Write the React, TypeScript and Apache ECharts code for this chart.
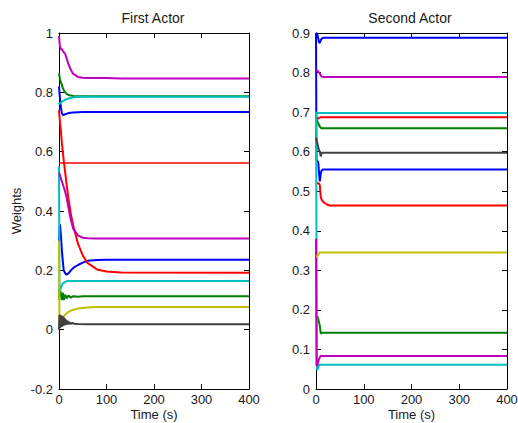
import React, { useEffect, useRef } from "react";
import * as echarts from "echarts";

// ---------- First Actor (left panel) ----------
const tL = [0, 1, 2, 4, 6, 8, 10, 13, 16, 20, 25, 30, 40, 50, 60, 80, 100, 130, 400];
const blueL1 = [0.82, 0.80, 0.78, 0.75, 0.73, 0.724, 0.724, 0.726, 0.728, 0.73, 0.731, 0.732, 0.733, 0.734, 0.734, 0.734, 0.734, 0.734, 0.734];
const blueL2 = [0.30, 0.33, 0.355, 0.32, 0.27, 0.23, 0.20, 0.19, 0.185, 0.19, 0.20, 0.208, 0.218, 0.226, 0.232, 0.235, 0.236, 0.236, 0.236];
const greenL1 = [0.865, 0.855, 0.845, 0.835, 0.825, 0.815, 0.808, 0.80, 0.795, 0.791, 0.789, 0.788, 0.787, 0.787, 0.787, 0.787, 0.787, 0.787, 0.787];
const greenL2 = [0.10, 0.14, 0.135, 0.12, 0.10, 0.125, 0.10, 0.118, 0.105, 0.115, 0.108, 0.113, 0.111, 0.113, 0.113, 0.113, 0.113, 0.113, 0.113];
const tFlat = [0, 400];
const redL1 = [0.562, 0.562];
const redL2 = [0.74, 0.72, 0.70, 0.67, 0.63, 0.60, 0.57, 0.53, 0.49, 0.44, 0.39, 0.35, 0.29, 0.25, 0.225, 0.203, 0.196, 0.193, 0.192];
const cyanL1 = [0.765, 0.76, 0.762, 0.765, 0.768, 0.77, 0.772, 0.775, 0.777, 0.779, 0.781, 0.783, 0.784, 0.785, 0.785, 0.785, 0.785, 0.785, 0.785];
const cyanL2 = [0.55, 0.13, 0.13, 0.14, 0.15, 0.155, 0.158, 0.161, 0.163, 0.164, 0.164, 0.164, 0.164, 0.164, 0.164, 0.164, 0.164, 0.164, 0.164];
const magentaL1 = [0.99, 0.97, 0.955, 0.945, 0.945, 0.94, 0.935, 0.93, 0.915, 0.895, 0.875, 0.862, 0.852, 0.849, 0.848, 0.848, 0.848, 0.847, 0.847];
const magentaL2 = [0.53, 0.525, 0.52, 0.51, 0.50, 0.49, 0.48, 0.465, 0.445, 0.41, 0.37, 0.34, 0.318, 0.31, 0.308, 0.307, 0.307, 0.307, 0.307];
const yellowL = [0.30, 0.02, 0.025, 0.03, 0.035, 0.04, 0.045, 0.05, 0.055, 0.06, 0.064, 0.067, 0.071, 0.073, 0.075, 0.076, 0.076, 0.076, 0.076];
const tK = [0, 1, 2, 3, 4, 5, 6, 7, 8, 9, 10, 11, 12, 13, 14, 15, 16, 18, 20, 22, 25, 28, 32, 40, 60, 400];
const grayL = [0.0, 0.05, 0.005, 0.05, 0.008, 0.048, 0.01, 0.045, 0.012, 0.043, 0.013, 0.04, 0.015, 0.037, 0.016, 0.033, 0.017, 0.03, 0.018, 0.026, 0.019, 0.023, 0.02, 0.019, 0.018, 0.018];

// ---------- Second Actor (right panel) ----------
const tR = [0, 1, 2, 3, 4, 5, 6, 8, 10, 12, 15, 20, 25, 30, 400];
const blueR1 = [0.9, 0.9, 0.898, 0.895, 0.89, 0.885, 0.877, 0.875, 0.882, 0.886, 0.888, 0.888, 0.888, 0.888, 0.888];
const blueR2 = [0.9, 0.58, 0.578, 0.577, 0.575, 0.57, 0.55, 0.525, 0.545, 0.553, 0.555, 0.555, 0.555, 0.555, 0.555];
const greenR1 = [0.68, 0.68, 0.678, 0.676, 0.675, 0.672, 0.668, 0.663, 0.66, 0.659, 0.659, 0.659, 0.659, 0.659, 0.659];
const greenR2 = [0.18, 0.182, 0.183, 0.183, 0.18, 0.175, 0.17, 0.16, 0.14, 0.142, 0.142, 0.142, 0.142, 0.142, 0.142];
const redR1 = [0.69, 0.688, 0.685, 0.683, 0.683, 0.684, 0.685, 0.686, 0.687, 0.687, 0.687, 0.687, 0.687, 0.687, 0.687];
const redR2 = [0.52, 0.52, 0.52, 0.52, 0.52, 0.52, 0.52, 0.515, 0.485, 0.478, 0.473, 0.469, 0.465, 0.464, 0.464];
const cyanR1 = [0.70, 0.699, 0.698, 0.698, 0.698, 0.698, 0.698, 0.698, 0.698, 0.698, 0.698, 0.698, 0.698, 0.698, 0.698];
const cyanR2 = [0.70, 0.40, 0.05, 0.048, 0.052, 0.056, 0.06, 0.061, 0.061, 0.061, 0.061, 0.061, 0.061, 0.061, 0.061];
const magentaR1 = [0.805, 0.806, 0.805, 0.804, 0.804, 0.803, 0.80, 0.798, 0.792, 0.79, 0.789, 0.789, 0.789, 0.789, 0.789];
const magentaR2 = [0.38, 0.06, 0.058, 0.06, 0.065, 0.07, 0.075, 0.08, 0.084, 0.0835, 0.0835, 0.0835, 0.0835, 0.0835, 0.0835];
const yellowR = [0.335, 0.335, 0.336, 0.337, 0.338, 0.34, 0.343, 0.345, 0.345, 0.345, 0.345, 0.345, 0.345, 0.345, 0.345];
const grayR = [0.635, 0.63, 0.625, 0.62, 0.615, 0.61, 0.605, 0.60, 0.588, 0.597, 0.597, 0.597, 0.597, 0.597, 0.597];

const C = {
  b: "#0000ff",
  g: "#008000",
  r: "#ff0000",
  c: "#00bfbf",
  m: "#bf00bf",
  y: "#bfbf00",
  k: "#404040",
};

const FONT = "'Liberation Sans', Arial, sans-serif";

const zip = (t: number[], v: number[]) => t.map((x, i) => [x, v[i]]);

function line(name: string, t: number[], v: number[], color: string, panel: number, width = 2) {
  return {
    name,
    type: "line",
    xAxisIndex: panel * 2,
    yAxisIndex: panel * 2,
    data: zip(t, v),
    showSymbol: false,
    symbol: "none",
    lineStyle: { color, width },
    itemStyle: { color },
    clip: true,
    silent: true,
  };
}

const fmt = (v: number) => String(Number(v.toFixed(1)));

function xAxes(grid: number) {
  const base = {
    gridIndex: grid,
    type: "value",
    min: 0,
    max: 400,
    interval: 100,
    splitLine: { show: false },
    axisLine: { show: true, onZero: false, lineStyle: { color: "#000", width: 1 } },
    axisTick: { show: true, inside: true, length: 5, lineStyle: { color: "#000" } },
  };
  return [
    {
      ...base,
      position: "bottom",
      axisLabel: { margin: 4, fontSize: 13, lineHeight: 13, color: "#1a1a1a", fontFamily: FONT },
      name: "Time (s)",
      nameLocation: "middle",
      nameGap: 19,
      nameMoveOverlap: false,
      nameTextStyle: { fontSize: 13, lineHeight: 13, color: "#1a1a1a", fontFamily: FONT },
    },
    { ...base, position: "top", axisLabel: { show: false } },
  ];
}

function yAxes(grid: number, min: number, max: number, interval: number, name?: string) {
  const base = {
    gridIndex: grid,
    type: "value",
    min,
    max,
    interval,
    splitLine: { show: false },
    axisLine: { show: true, onZero: false, lineStyle: { color: "#000", width: 1 } },
    axisTick: { show: true, inside: true, length: 5, lineStyle: { color: "#000" } },
  };
  return [
    {
      ...base,
      position: "left",
      axisLabel: { margin: 6, fontSize: 13, color: "#1a1a1a", fontFamily: FONT, formatter: fmt },
      ...(name
        ? {
            name,
            nameLocation: "middle",
            nameGap: 36,
            nameMoveOverlap: false,
            nameTextStyle: { fontSize: 13, color: "#1a1a1a", fontFamily: FONT },
          }
        : {}),
    },
    { ...base, position: "right", axisLabel: { show: false } },
  ];
}

export default function App() {
  const ref = useRef<HTMLDivElement>(null);
  useEffect(() => {
    if (!ref.current) return;
    const chart = echarts.init(ref.current, undefined, { renderer: "svg" });
    const option = {
      animation: false,
      backgroundColor: "#ffffff",
      grid: [
        { left: 59, top: 33, width: 190, height: 356, outerBoundsMode: "none", containLabel: false },
        { left: 316, top: 33, width: 191, height: 356, outerBoundsMode: "none", containLabel: false },
      ],
      xAxis: [...xAxes(0), ...xAxes(1)],
      yAxis: [...yAxes(0, -0.2, 1, 0.2, "Weights"), ...yAxes(1, 0, 0.9, 0.1)],
      graphic: [
        {
          type: "text",
          x: 153,
          y: 18,
          style: {
            text: "First Actor",
            fill: "#1a1a1a",
            font: `14px ${FONT}`,
            textAlign: "center",
            textVerticalAlign: "middle",
          },
        },
        {
          type: "text",
          x: 410,
          y: 18,
          style: {
            text: "Second Actor",
            fill: "#1a1a1a",
            font: `14px ${FONT}`,
            textAlign: "center",
            textVerticalAlign: "middle",
          },
        },
      ],
      series: [
        line("blueL1", tL, blueL1, C.b, 0),
        line("blueL2", tL, blueL2, C.b, 0),
        line("greenL1", tL, greenL1, C.g, 0),
        line("greenL2", tL, greenL2, C.g, 0),
        line("redL1", tFlat, redL1, C.r, 0, 1.5),
        line("redL2", tL, redL2, C.r, 0),
        line("cyanL1", tL, cyanL1, C.c, 0),
        line("cyanL2", tL, cyanL2, C.c, 0),
        line("magentaL1", tL, magentaL1, C.m, 0),
        line("magentaL2", tL, magentaL2, C.m, 0),
        line("yellowL", tL, yellowL, C.y, 0),
        line("grayL", tK, grayL, C.k, 0),

        line("blueR1", tR, blueR1, C.b, 1),
        line("blueR2", tR, blueR2, C.b, 1),
        line("greenR1", tR, greenR1, C.g, 1),
        line("greenR2", tR, greenR2, C.g, 1),
        line("redR1", tR, redR1, C.r, 1),
        line("redR2", tR, redR2, C.r, 1),
        line("cyanR1", tR, cyanR1, C.c, 1),
        line("cyanR2", tR, cyanR2, C.c, 1),
        line("magentaR1", tR, magentaR1, C.m, 1),
        line("magentaR2", tR, magentaR2, C.m, 1),
        line("yellowR", tR, yellowR, C.y, 1),
        line("grayR", tR, grayR, C.k, 1),
      ],
    };
    chart.setOption(option as any);
    return () => chart.dispose();
  }, []);
  return (
    <div
      ref={ref}
      style={{ position: "fixed", left: 0, top: 0, width: 518, height: 423, background: "#fff" }}
    />
  );
}
